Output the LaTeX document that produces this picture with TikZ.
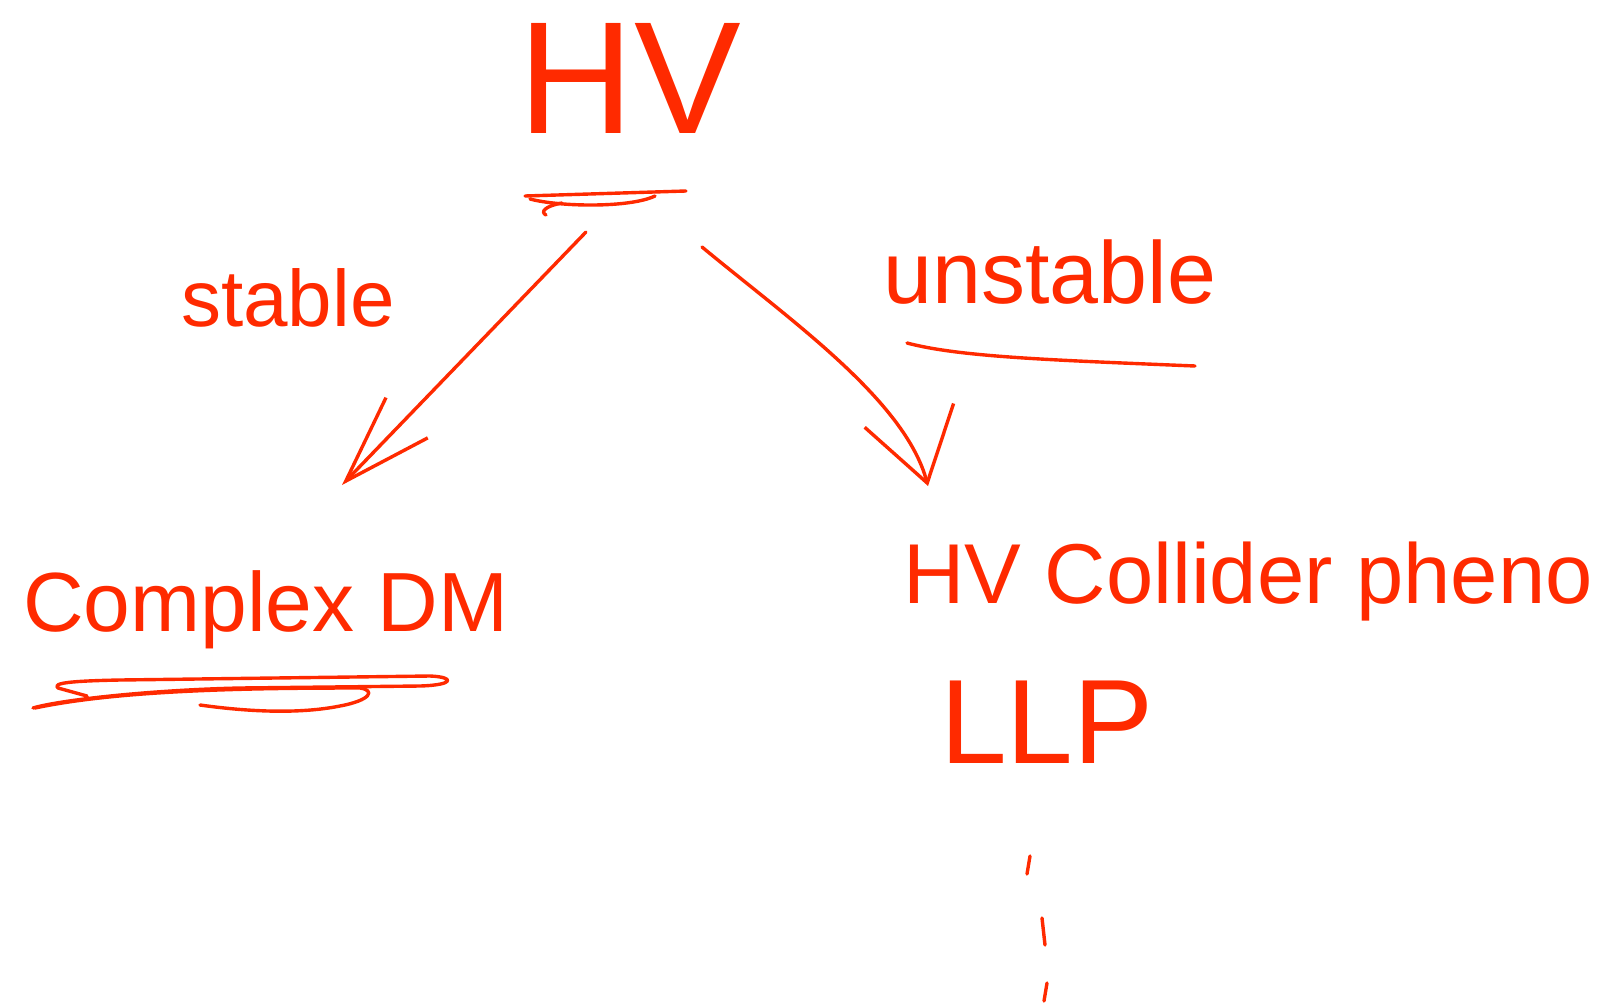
\documentclass[tikz,border=0pt]{standalone}
\usepackage{fontspec}
\setmainfont{Liberation Sans}
\usetikzlibrary{arrows.meta,calc}
\definecolor{ink}{HTML}{FF2A00}
\begin{document}
\begin{tikzpicture}[x=1pt,y=-1pt,
  ink/.style={draw=ink,line width=3.4pt,line cap=round,line join=round},
  lbl/.style={text=ink,inner sep=0pt,font=#1},
  conn/.style={ink}]
\useasboundingbox (0,0) rectangle (1602,1006);
% nodes
\node[lbl={\fontsize{160}{160}\selectfont}] (hv) at (630,78) {HV};
\node[lbl={\fontsize{80}{80}\selectfont}] (stable) at (288,298) {stable};
\node[lbl={\fontsize{88}{88}\selectfont}] (unstable) at (1050,272) {unstable};
\node[lbl={\fontsize{84}{84}\selectfont}] (dm) at (266,610) {Complex DM};
\node[lbl={\fontsize{85}{85}\selectfont}] (pheno) at (1248,582) {HV Collider pheno};
\node[lbl={\fontsize{120}{120}\selectfont}] (llp) at (1047,722) {LLP};
% underlines
\draw[ink] (525,196) -- (686,191);
\draw[ink] (530,199) .. controls (560,207) and (630,208) .. (655,196);
\draw[ink] (562,203) .. controls (545,206) and (540,212) .. (546,215);
\draw[ink] (907,343) .. controls (960,357) and (1050,360) .. (1195,366);
\draw[ink] (87,696) -- (58,688) .. controls (52,683) and (70,681) .. (120,680) -- (430,676)
  .. controls (455,677) and (455,685) .. (420,686) -- (240,688)
  .. controls (150,690) and (60,700) .. (33,708);
\draw[ink] (35,708) .. controls (120,690) and (250,688) .. (360,688)
  .. controls (375,690) and (372,700) .. (340,706)
  .. controls (300,714) and (250,712) .. (200,705);
% connectors
\coordinate (ls) at (586,232);
\coordinate (le) at (342,485);
\draw[conn,-{Straight Barb[length=88pt,width=58pt,line width=3.4pt]}] (ls) -- (le);
\coordinate (rs) at (702,247);
\coordinate (re) at (928,486);
\draw[conn,-{Straight Barb[length=70pt,width=92pt,line width=3.4pt]}] (rs) .. controls (790,320) and (905,400) .. (re);
% continuation dots below LLP
\coordinate (d0) at (1030,856);
\draw[ink] (d0) -- ++(-3,18);
\draw[ink] (d0)++(12,62) -- ++(3,27);
\draw[ink] (d0)++(17,127) -- ++(-3,18);
\end{tikzpicture}
\end{document}
